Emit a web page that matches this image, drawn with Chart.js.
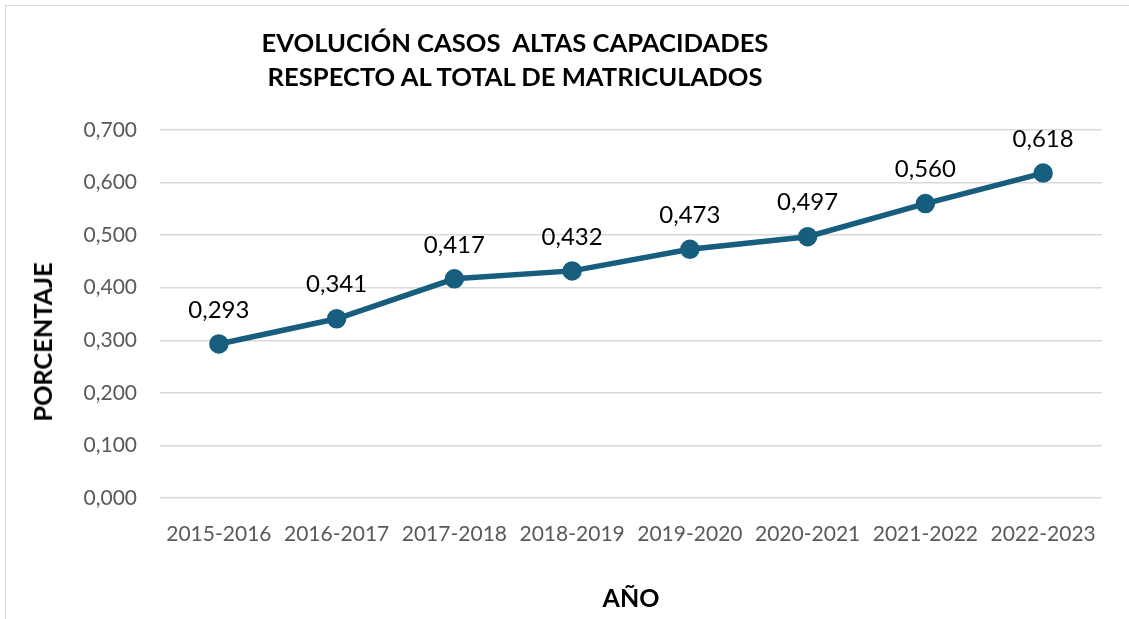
<!DOCTYPE html>
<html>
<head>
<meta charset="utf-8">
<script src="https://cdn.jsdelivr.net/npm/chart.js@4"></script>
<style>
  html, body { margin: 0; padding: 0; background: #fff; overflow: hidden; }
  #wrap { position: relative; width: 1129px; height: 619px; }
  #frame { position: absolute; left: 5px; top: 5px; width: 1200px; height: 700px;
           border: 1.5px solid #d9d9d9; box-sizing: border-box; }
  #title { position: absolute; left: 215px; width: 600px; top: 25px; text-align: center;
           font: bold 25.6px Lato, sans-serif; line-height: 34px; color: #000; white-space: pre; }
  #ytitle { position: absolute; left: 42px; top: 342px; transform: translate(-50%, -50%) rotate(-90deg);
            font: bold 25.3px Lato, sans-serif; color: #000; white-space: nowrap; }
  canvas { position: absolute; left: 0; top: 0; }
</style>
</head>
<body>
<div id="wrap">
  <div id="frame"></div>
  <canvas id="myChart" width="1129" height="619"></canvas>
  <div id="title">EVOLUCIÓN CASOS  ALTAS CAPACIDADES
RESPECTO AL TOTAL DE MATRICULADOS</div>
  <div id="ytitle">PORCENTAJE</div>
</div>
<script>
var years = ['2015-2016','2016-2017','2017-2018','2018-2019','2019-2020','2020-2021','2021-2022','2022-2023'];
var porcentaje = [0.293, 0.341, 0.417, 0.432, 0.473, 0.497, 0.560, 0.618];
var yTicks = [0, 0.1, 0.2, 0.3, 0.4, 0.5, 0.6, 0.7];

function fmt(v){
    return v.toFixed(3).replace('.', ',');
}

// labels above each point
var valueLabels = {
    id: 'valueLabels',
    afterDatasetsDraw: function(chart){
        var ctx = chart.ctx;
        var meta = chart.getDatasetMeta(0);
        ctx.save();
        ctx.font = '24px Lato, sans-serif';
        ctx.fillStyle = '#000';
        ctx.textAlign = 'center';
        ctx.textBaseline = 'middle';
        meta.data.forEach(function(pt, i){
            ctx.fillText(fmt(porcentaje[i]), pt.x, pt.y - 34);
        });
        ctx.restore();
    }
};

const ctx = document.getElementById('myChart').getContext('2d');
var myChart = new Chart(ctx, {
    type: 'line',
    data: {
        labels: years,
        datasets: [{
            label: 'Porcentaje',
            data: porcentaje,
            borderColor: '#175e7e',
            backgroundColor: '#175e7e',
            borderWidth: 5.5,
            pointRadius: 7,
            pointHoverRadius: 7,
            tension: 0
        }]
    },
    options: {
        responsive: false,
        animation: false,
        layout: { padding: { top: 130, right: 27, left: 0, bottom: 0 } },
        plugins: {
            legend: { display: false },
            tooltip: { enabled: false }
        },
        scales: {
            x: {
                offset: true,
                grid: { display: false },
                border: { display: false },
                ticks: { color: '#595959', font: { family: 'Lato', size: 21 }, padding: 16, maxRotation: 0 },
                title: { display: true, text: 'AÑO', color: '#000',
                         font: { family: 'Lato', size: 25, weight: 'bold' }, padding: { top: 0, bottom: 5 } },
                afterFit: function(s){ s.height = 121; }
            },
            y: {
                min: 0,
                max: 0.7,
                afterBuildTicks: function(s){ s.ticks = yTicks.map(function(v){ return { value: v }; }); },
                grid: { color: '#d9d9d9', lineWidth: 1.5, drawTicks: false },
                border: { display: false },
                ticks: { color: '#595959', font: { family: 'Lato', size: 21 }, padding: 23,
                         callback: function(v){ return fmt(v); } },
                afterFit: function(s){ s.width = 160; }
            }
        }
    },
    plugins: [valueLabels]
});
</script>
</body>
</html>
